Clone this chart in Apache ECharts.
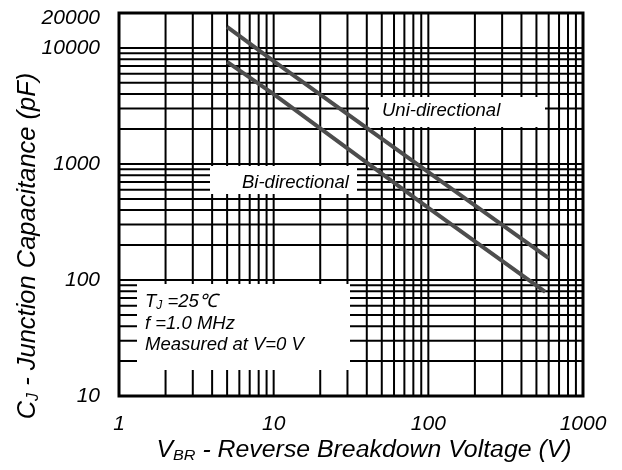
<!DOCTYPE html>
<html><head><meta charset="utf-8">
<script src="https://cdn.jsdelivr.net/npm/echarts@6/dist/echarts.min.js"></script>
<style>html,body{margin:0;padding:0;background:#fff}#c{width:622px;height:470px}</style>
</head><body><div id="c"></div>
<script>
// ---- data ----
const uniVoltage = [5, 10, 100, 600];
const uniCap = [15200, 7700, 850, 154];
const biVoltage = [5, 10, 100, 570];
const biCap = [7570, 3990, 419, 79];
const xMin = 1, xMax = 1000;
const yMin = 10, yMax = 20000;
const xGridValues = [2,3,4,5,6,7,8,9,10,20,30,40,50,60,70,80,90,100,200,300,400,500,600,700,800,900];
const yGridValues = [20,30,40,50,60,70,80,90,100,200,300,400,500,600,700,800,900,1000,2000,3000,4000,5000,6000,7000,8000,9000,10000];
const xTickLabels = ['1','10','100','1000'];
const yTickLabels = ['10','100','1000','10000','20000'];
const seriesNames = ['Uni-directional','Bi-directional'];
const noteLines = ['T_J =25℃','f =1.0 MHz','Measured at V=0 V'];
const xTitle = ['V','BR',' - Reverse Breakdown Voltage (V)'];
const yTitle = ['C','J',' - Junction Capacitance (pF)'];

const FF = "'Liberation Sans', Arial, sans-serif";
const chart = echarts.init(document.getElementById('c'));

function gridV(params, api){
  const v = api.value(0);
  const a = api.coord([v, yMin]), b = api.coord([v, yMax]);
  return {type:'line', shape:{x1:a[0],y1:a[1],x2:b[0],y2:b[1]}, style:{stroke:'#000', lineWidth:2}};
}
function gridH(params, api){
  const v = api.value(1);
  const a = api.coord([xMin, v]), b = api.coord([xMax, v]);
  return {type:'line', shape:{x1:a[0],y1:a[1],x2:b[0],y2:b[1]}, style:{stroke:'#000', lineWidth:2}};
}
const xRich = {
  n:{fontSize:23, fontStyle:'italic', fontFamily:FF, fill:'#000'},
  s:{fontSize:15, fontStyle:'italic', fontFamily:FF, fill:'#000', verticalAlign:'bottom', padding:[10,0,0,0]}
};
const yRich = {
  n:{fontSize:25.5, fontStyle:'italic', fontFamily:FF, fill:'#000'},
  s:{fontSize:16, fontStyle:'italic', fontFamily:FF, fill:'#000', verticalAlign:'bottom', padding:[11,0,0,0]}
};
const noteRich = {
  n:{fontSize:18.5, fontStyle:'italic', fontFamily:FF, fill:'#000'},
  s:{fontSize:12, fontStyle:'italic', fontFamily:FF, fill:'#000', padding:[7,0,0,0]}
};
const noteFont = 'italic 18.5px ' + FF;
function labelFmt(v){ return String(Math.round(v)); }

chart.setOption({
  animation:false,
  grid:{left:119, right:39, top:13, bottom:74, show:true, borderColor:'#000', borderWidth:3, backgroundColor:'#fff'},
  xAxis:{type:'log', logBase:10, min:xMin, max:xMax,
    axisLine:{show:false}, axisTick:{show:false}, splitLine:{show:false},
    axisLabel:{fontSize:21, fontStyle:'italic', fontFamily:FF, color:'#000', margin:18,
      formatter:v=>{ const s=labelFmt(v); return xTickLabels.includes(s)?s:''; }}},
  yAxis:{type:'log', logBase:10, min:yMin, max:yMax,
    axisLine:{show:false}, axisTick:{show:false}, splitLine:{show:false},
    axisLabel:{fontSize:21, fontStyle:'italic', fontFamily:FF, color:'#000', margin:19,
      formatter:v=>{ const s=labelFmt(v); if(!yTickLabels.includes(s)) return ''; return s==='20000' ? '{t|'+s+'}' : s; },
      rich:{t:{fontSize:21, fontStyle:'italic', fontFamily:FF, color:'#000', padding:[10,0,0,0]}}}},
  series:[
    {type:'custom', z:2, silent:true, renderItem:gridV, data:xGridValues.map(v=>[v, yMin]), clip:false},
    {type:'custom', z:2, silent:true, renderItem:gridH, data:yGridValues.map(v=>[xMin, v]), clip:false},
    {name:seriesNames[0], type:'line', z:10, symbol:'none', data:uniVoltage.map((v,i)=>[v, uniCap[i]]),
      lineStyle:{color:'#4d4d4d', width:4}},
    {name:seriesNames[1], type:'line', z:10, symbol:'none', data:biVoltage.map((v,i)=>[v, biCap[i]]),
      lineStyle:{color:'#4d4d4d', width:4}}
  ],
  graphic:[
    {type:'rect', z:5, shape:{x:369, y:97, width:176, height:30}, style:{fill:'#fff'}},
    {type:'rect', z:5, shape:{x:210, y:166, width:147, height:28}, style:{fill:'#fff'}},
    {type:'rect', z:5, shape:{x:137, y:284, width:213, height:86}, style:{fill:'#fff'}},
    {type:'text', z:6, x:382, y:111, style:{text:seriesNames[0], font:noteFont, fill:'#000', align:'left', verticalAlign:'middle'}},
    {type:'text', z:6, x:242, y:183, style:{text:seriesNames[1], font:noteFont, fill:'#000', align:'left', verticalAlign:'middle'}},
    {type:'text', z:6, x:145, y:302, style:{text:'{n|T}{s|J}{n| =25℃}', rich:noteRich, align:'left', verticalAlign:'middle'}},
    {type:'text', z:6, x:145, y:324, style:{text:noteLines[1], font:noteFont, fill:'#000', align:'left', verticalAlign:'middle'}},
    {type:'text', z:6, x:145, y:345, style:{text:noteLines[2], font:noteFont, fill:'#000', align:'left', verticalAlign:'middle'}},
    {type:'text', z:6, x:364, y:451, scaleX:1.08, style:{text:'{n|'+xTitle[0]+'}{s|'+xTitle[1]+'}{n|'+xTitle[2]+'}', rich:xRich, align:'center', verticalAlign:'middle'}},
    {type:'text', z:6, x:28, y:246, rotation:Math.PI/2, style:{text:'{n|'+yTitle[0]+'}{s|'+yTitle[1]+'}{n|'+yTitle[2]+'}', rich:yRich, align:'center', verticalAlign:'middle'}}
  ]
});
</script></body></html>
